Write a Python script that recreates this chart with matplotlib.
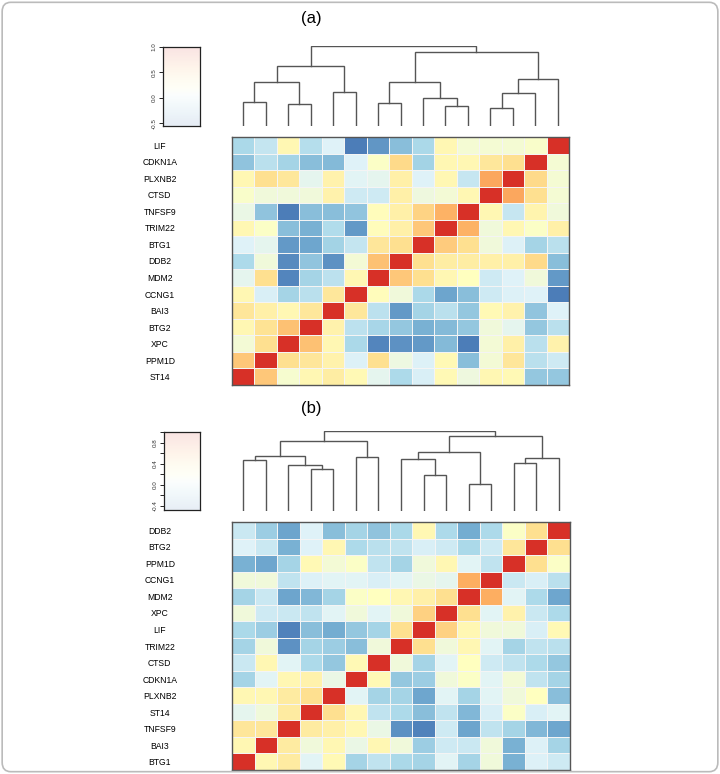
import matplotlib
matplotlib.use("Agg")
import matplotlib.pyplot as plt
import numpy as np
from matplotlib.colors import LinearSegmentedColormap
from matplotlib.patches import FancyBboxPatch

plt.rcParams['font.family'] = ['Liberation Sans', 'DejaVu Sans']

# ---- panel (a) data ----
rows_a = ['LIF', 'CDKN1A', 'PLXNB2', 'CTSD', 'TNFSF9', 'TRIM22', 'BTG1', 'DDB2',
          'MDM2', 'CCNG1', 'BAI3', 'BTG2', 'XPC', 'PPM1D', 'ST14']
corr_a = [
    [-0.10, -0.03, 0.25, -0.07, 0.05, -0.47, -0.38, -0.22, -0.10, 0.25, 0.15, 0.15, 0.15, 0.17, 1.00],
    [-0.20, -0.06, -0.12, -0.22, -0.24, 0.05, 0.18, 0.42, -0.13, 0.25, 0.25, 0.35, 0.40, 1.00, 0.15],
    [0.25, 0.40, 0.35, 0.08, 0.28, 0.06, 0.08, 0.30, 0.05, 0.25, -0.02, 0.62, 1.00, 0.42, 0.15],
    [0.17, 0.13, 0.13, 0.13, 0.28, 0.00, 0.00, 0.30, 0.12, 0.14, 0.25, 1.00, 0.62, 0.40, 0.15],
    [0.10, -0.20, -0.47, -0.22, -0.22, -0.19, 0.22, 0.30, 0.45, 0.58, 1.00, 0.25, -0.02, 0.27, 0.13],
    [0.25, 0.18, -0.22, -0.28, -0.08, -0.37, 0.22, 0.30, 0.50, 1.00, 0.58, 0.13, 0.25, 0.18, 0.30],
    [0.05, 0.08, -0.37, -0.32, -0.13, -0.03, 0.36, 0.40, 1.00, 0.48, 0.40, 0.13, 0.04, -0.12, -0.06],
    [-0.09, 0.13, -0.42, -0.19, -0.40, 0.14, 0.52, 1.00, 0.40, 0.32, 0.32, 0.30, 0.30, 0.42, -0.22],
    [0.08, 0.40, -0.44, -0.12, -0.05, 0.25, 1.00, 0.50, 0.40, 0.25, 0.20, 0.00, 0.05, 0.13, -0.37],
    [0.25, 0.03, -0.12, -0.06, 0.35, 1.00, 0.22, 0.13, -0.10, -0.33, -0.22, 0.00, 0.04, 0.05, -0.47],
    [0.36, 0.30, 0.25, 0.35, 1.00, 0.35, -0.05, -0.37, -0.12, -0.06, -0.18, 0.24, 0.28, -0.19, 0.05],
    [0.25, 0.38, 0.52, 1.00, 0.28, -0.05, -0.11, -0.18, -0.28, -0.24, -0.18, 0.13, 0.08, -0.18, -0.06],
    [0.14, 0.40, 1.00, 0.52, 0.25, -0.10, -0.44, -0.40, -0.37, -0.24, -0.47, 0.14, 0.30, -0.06, 0.28],
    [0.50, 1.00, 0.40, 0.36, 0.28, 0.04, 0.40, 0.11, 0.04, 0.24, -0.22, 0.14, 0.36, -0.06, 0.00],
    [1.00, 0.50, 0.16, 0.25, 0.32, 0.24, 0.08, -0.09, 0.03, 0.24, 0.12, 0.25, 0.24, -0.18, -0.18],
]
# merges: (child, child, height); leaves 0..14, new clusters 15..
link_a = [(0, 1, 0.30), (2, 3, 0.28), (15, 16, 0.55), (4, 5, 0.43), (17, 18, 0.75),
          (6, 7, 0.29), (9, 10, 0.25), (8, 21, 0.35), (20, 22, 0.55), (11, 12, 0.23),
          (24, 13, 0.41), (25, 14, 0.59), (23, 26, 0.92), (19, 27, 1.00)]

# ---- panel (b) data ----
rows_b = ['DDB2', 'BTG2', 'PPM1D', 'CCNG1', 'MDM2', 'XPC', 'LIF', 'TRIM22', 'CTSD',
          'CDKN1A', 'PLXNB2', 'ST14', 'TNFSF9', 'BAI3', 'BTG1']
corr_b = [
    [-0.01, -0.15, -0.33, 0.05, -0.22, -0.12, -0.20, -0.10, 0.25, -0.09, -0.30, -0.09, 0.18, 0.40, 1.00],
    [0.05, -0.01, -0.28, 0.05, 0.25, -0.09, -0.06, -0.04, 0.03, 0.00, -0.10, 0.00, 0.36, 1.00, 0.40],
    [-0.28, -0.32, -0.12, 0.24, 0.14, 0.18, -0.04, -0.12, 0.13, 0.25, 0.06, -0.04, 1.00, 0.40, 0.18],
    [0.13, 0.13, -0.04, 0.04, 0.06, 0.06, 0.03, 0.06, 0.10, 0.08, 0.60, 1.00, -0.01, 0.03, -0.06],
    [-0.12, -0.01, -0.33, -0.25, -0.12, 0.18, 0.20, 0.25, 0.30, 0.40, 1.00, 0.60, 0.06, -0.09, -0.32],
    [0.13, 0.00, -0.01, -0.04, 0.06, 0.13, 0.06, 0.13, 0.46, 1.00, 0.40, 0.06, 0.28, -0.01, -0.09],
    [-0.10, -0.15, -0.45, -0.22, -0.30, -0.18, -0.12, 0.40, 1.00, 0.46, 0.25, 0.13, 0.13, 0.03, 0.24],
    [-0.12, 0.13, -0.40, -0.12, -0.15, -0.22, 0.13, 1.00, 0.40, 0.13, 0.25, 0.06, -0.12, -0.04, -0.06],
    [-0.01, 0.25, 0.06, -0.09, -0.18, 0.24, 1.00, 0.13, -0.12, 0.06, 0.20, 0.00, -0.04, -0.09, -0.18],
    [-0.12, 0.06, 0.25, 0.28, 0.10, 1.00, 0.24, -0.18, -0.15, 0.13, 0.18, 0.06, 0.14, -0.04, -0.12],
    [0.25, 0.25, 0.33, 0.40, 1.00, 0.06, -0.12, -0.12, -0.32, 0.06, -0.12, 0.06, 0.13, 0.20, -0.22],
    [0.08, 0.13, 0.33, 1.00, 0.40, 0.25, -0.04, -0.09, -0.22, -0.04, -0.25, 0.03, 0.18, 0.03, 0.06],
    [0.36, 0.36, 1.00, 0.33, 0.30, 0.25, 0.10, -0.40, -0.45, 0.00, -0.33, -0.04, -0.12, -0.25, -0.32],
    [0.25, 1.00, 0.33, 0.13, 0.25, 0.10, 0.25, 0.13, -0.15, 0.00, -0.01, 0.13, -0.28, 0.04, -0.12],
    [1.00, 0.25, 0.33, 0.06, 0.24, -0.12, -0.04, -0.10, -0.12, 0.06, -0.12, 0.13, -0.28, 0.04, 0.00],
]
link_b = [(0, 1, 0.636), (3, 4, 0.52), (2, 16, 0.573), (15, 17, 0.69), (5, 6, 0.678),
          (18, 19, 0.879), (8, 9, 0.448), (7, 21, 0.649), (10, 11, 0.343), (22, 23, 0.741),
          (12, 13, 0.594), (25, 14, 0.657), (24, 26, 0.941), (20, 27, 1.00)]

# colour scale (RdYlBu style)
vmin, vmax = -0.5, 1.0
anchors = [(-0.5, '#4575b4'), (-0.3, '#74add1'), (-0.1, '#abd9e9'), (0.05, '#e0f3f8'),
           (0.2, '#ffffbf'), (0.4, '#fee090'), (0.6, '#fdae61'), (1.0, '#d73027')]
cmap = LinearSegmentedColormap.from_list(
    'rdylbu', [((v - vmin) / (vmax - vmin), c) for v, c in anchors])

W, H = 720, 774
fig = plt.figure(figsize=(W / 100, H / 100), dpi=100)
fig.patches.append(FancyBboxPatch((0.003, 0.003), 0.994, 0.994,
                                  boxstyle='round,pad=0,rounding_size=0.012',
                                  transform=fig.transFigure, fill=False,
                                  edgecolor='#bbbbbb', linewidth=1.2))


def px_axes(x0, y0, x1, y1):
    return fig.add_axes([x0 / W, 1 - y1 / H, (x1 - x0) / W, (y1 - y0) / H])


def draw_dendro(ax, link):
    xs = {i: i + 0.5 for i in range(15)}
    hs = {i: 0.0 for i in range(15)}
    for k, (a, b, h) in enumerate(link):
        ax.plot([xs[a], xs[a], xs[b], xs[b]], [hs[a], h, h, hs[b]],
                color='#555555', lw=1.0, solid_joinstyle='miter')
        xs[15 + k] = (xs[a] + xs[b]) / 2
        hs[15 + k] = h
    ax.set_xlim(0, 15)
    ax.set_ylim(0, 1.0)
    ax.axis('off')


def draw_key(ax, lo, hi, ticks, labels):
    grad = np.linspace(lo, hi, 200).reshape(-1, 1)
    ax.imshow(grad, cmap=cmap, vmin=vmin, vmax=vmax, aspect='auto', origin='lower',
              extent=[0, 1, lo, hi], alpha=0.13)
    ax.set_xlim(0, 1)
    ax.set_ylim(lo, hi)
    ax.set_xticks([])
    ax.set_yticks(ticks)
    ax.set_yticklabels(labels, rotation=90, va='center', fontsize=4.5, color='#333333')
    ax.tick_params(axis='y', length=3, width=0.6, pad=1.5)
    for s in ax.spines.values():
        s.set_linewidth(0.9)
        s.set_color('#222222')


def draw_heat(ax, data, rows):
    m = np.array(data)
    ax.pcolormesh(np.arange(16), np.arange(16), m, cmap=cmap, vmin=vmin, vmax=vmax,
                  edgecolors='#f4f4f4', linewidth=0.5)
    ax.set_xlim(0, 15)
    ax.set_ylim(15, 0)
    ax.set_xticks([])
    ax.set_yticks(np.arange(15) + 0.5)
    ax.set_yticklabels(rows, fontsize=6.2, ha='center')
    ax.tick_params(axis='y', length=0, pad=52)
    for s in ax.spines.values():
        s.set_linewidth(1.0)
        s.set_color('#555555')


# panel (a)
fig.text(311 / W, 1 - 19 / H, '(a)', fontsize=12, ha='center', va='center')
draw_key(px_axes(163, 47, 200, 126), -0.55, 1.0,
         [-0.5, 0.0, 0.5, 1.0], ['-0.5', '0.0', '0.5', '1.0'])
draw_dendro(px_axes(232, 46, 569, 126), link_a)
draw_heat(px_axes(232, 137, 569, 385), corr_a, rows_a)

# panel (b)
fig.text(311 / W, 1 - 409 / H, '(b)', fontsize=12, ha='center', va='center')
tb = [-0.4, -0.2, 0.0, 0.2, 0.4, 0.6, 0.8, 1.0]
lb = ['-0.4', '', '0.0', '', '0.4', '', '0.8', '']
draw_key(px_axes(164, 432, 200, 510), -0.475, 1.0, tb, lb)
draw_dendro(px_axes(232, 431, 570, 511), link_b)
draw_heat(px_axes(232, 522, 570, 770), corr_b, rows_b)

fig.savefig('out.png', dpi=100)
